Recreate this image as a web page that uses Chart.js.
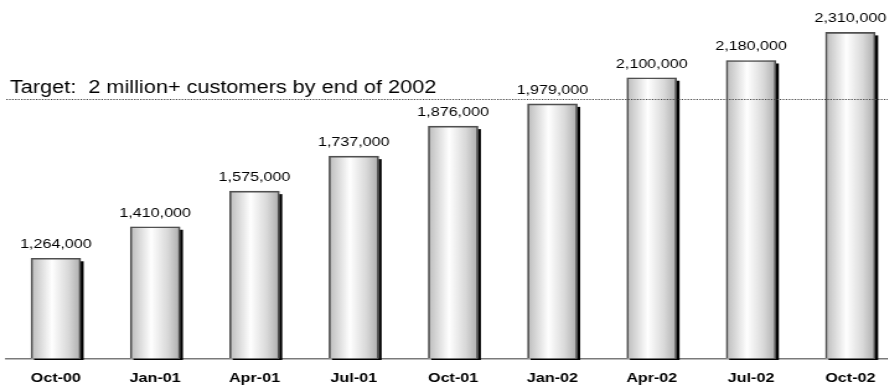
<!DOCTYPE html>
<html>
<head>
<meta charset="utf-8">
<script src="https://cdn.jsdelivr.net/npm/chart.js@4.4.1/dist/chart.umd.min.js"></script>
<style>
  html, body { margin: 0; padding: 0; background: #fff; overflow: hidden; }
  #frame { width: 888px; height: 391px; overflow: hidden; position: relative; }
  /* the chart is laid out narrow and widened horizontally, giving the wide lettering */
  #stretch { width: 726px; height: 391px; transform: scaleX(1.2397); transform-origin: 0 0; }
</style>
</head>
<body>
<div id="frame"><div id="stretch"><canvas id="c" width="726" height="391"></canvas></div></div>
<script>
// Customer count at each quarter end
const quarters = ['Oct-00', 'Jan-01', 'Apr-01', 'Jul-01', 'Oct-01', 'Jan-02', 'Apr-02', 'Jul-02', 'Oct-02'];
const customers = [1264000, 1410000, 1575000, 1737000, 1876000, 1979000, 2100000, 2180000, 2310000];

// Goal reference line
const targetValue = 2000000;
const targetLabel = 'Target:  2 million+ customers by end of 2002';

// Value axis range (axis itself is hidden)
const axisMin = 800000;
const axisMax = 2460000;

const SX = 900 / 726;            // horizontal widening factor
const FONT = '"Liberation Sans", Arial, sans-serif';
const fmt = v => v.toLocaleString('en-US');

const barDecor = {
  id: 'barDecor',
  beforeDatasetsDraw(chart) {
    const ctx = chart.ctx;
    const meta = chart.getDatasetMeta(0);
    const bottom = chart.chartArea.bottom;
    const dx = 3 / SX;
    meta.data.forEach(bar => {
      const { x, y, base, width } = bar.getProps(['x', 'y', 'base', 'width'], true);
      const left = x - width / 2, right = x + width / 2;
      const b = Math.min(base, bottom);
      ctx.save();
      // drop shadow to the right
      ctx.fillStyle = '#000';
      ctx.fillRect(left + dx, y + 3, width, b + 1.5 - (y + 3));
      // cylinder-like shading
      const g = ctx.createLinearGradient(left, 0, right, 0);
      g.addColorStop(0, '#bcbcbc');
      g.addColorStop(0.42, '#ffffff');
      g.addColorStop(0.75, '#d9d9d9');
      g.addColorStop(1, '#adadad');
      ctx.fillStyle = g;
      ctx.fillRect(left, y, width, b - y);
      ctx.restore();
    });
  },
  afterDatasetsDraw(chart) {
    const ctx = chart.ctx;
    const area = chart.chartArea;
    const yScale = chart.scales.y;
    const ty = Math.round(yScale.getPixelForValue(targetValue)) + 0.5;

    ctx.save();
    // dotted target line
    ctx.strokeStyle = '#444';
    ctx.lineWidth = 1;
    ctx.setLineDash([1.2, 1.2]);
    ctx.beginPath();
    ctx.moveTo(area.left, ty);
    ctx.lineTo(chart.width, ty);
    ctx.stroke();
    ctx.setLineDash([]);

    // target caption
    ctx.fillStyle = '#000';
    ctx.font = '17.5px ' + FONT;
    ctx.textAlign = 'left';
    ctx.textBaseline = 'alphabetic';
    ctx.fillText(targetLabel, 8, ty - 7);

    // value labels above bars
    ctx.font = '13px ' + FONT;
    ctx.fillStyle = '#000';
    ctx.textAlign = 'center';
    const meta = chart.getDatasetMeta(0);
    meta.data.forEach((bar, i) => {
      const { x, y } = bar.getProps(['x', 'y'], true);
      ctx.fillText(fmt(customers[i]), x, y - 10);
    });
    ctx.restore();
  }
};

new Chart(document.getElementById('c'), {
  type: 'bar',
  data: {
    labels: quarters,
    datasets: [{
      data: customers,
      base: axisMin,
      backgroundColor: 'rgba(0,0,0,0)',
      borderColor: '#505050',
      borderWidth: 1,
      borderSkipped: 'bottom',
      barThickness: 40
    }]
  },
  options: {
    responsive: false,
    animation: false,
    layout: { padding: { left: 5, right: 0, top: 0, bottom: 0 } },
    plugins: { legend: { display: false }, tooltip: { enabled: false } },
    scales: {
      x: {
        grid: { display: false, drawTicks: false },
        border: { display: true, color: '#7a7a7a', width: 1.5 },
        ticks: { color: '#000', font: { family: FONT, size: 13, weight: 'bold' }, padding: 12, maxRotation: 0, autoSkip: false },
        afterFit(scale) { scale.height = 32.5; }
      },
      y: {
        display: false,
        min: axisMin,
        max: axisMax
      }
    }
  },
  plugins: [barDecor]
});
</script>
</body>
</html>
